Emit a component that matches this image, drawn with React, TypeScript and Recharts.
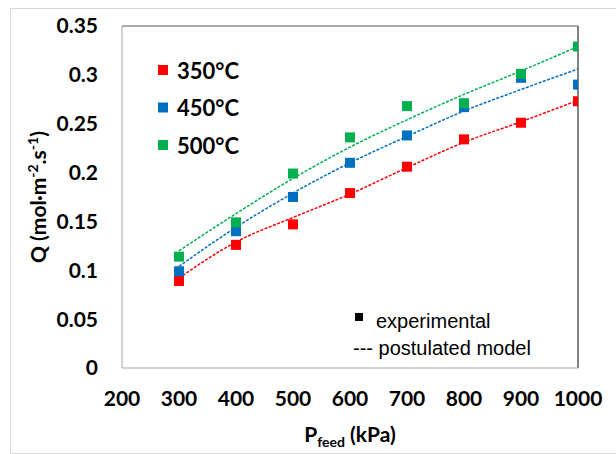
import React from 'react';
import { ComposedChart, Line, Scatter, XAxis, YAxis, ReferenceLine } from 'recharts';

const pressures = [300, 400, 500, 600, 700, 800, 900, 1000];
const exp350 = [0.089, 0.126, 0.147, 0.179, 0.206, 0.234, 0.251, 0.273];
const exp450 = [0.099, 0.140, 0.175, 0.210, 0.238, 0.267, 0.297, 0.290];
const exp500 = [0.114, 0.149, 0.199, 0.236, 0.268, 0.271, 0.301, 0.329];
const model350 = [0.092, 0.129, 0.154, 0.178, 0.205, 0.231, 0.252, 0.274];
const model450 = [0.104, 0.144, 0.179, 0.210, 0.237, 0.263, 0.285, 0.306];
const model500 = [0.120, 0.158, 0.194, 0.226, 0.254, 0.280, 0.304, 0.329];
const xTicks = [200, 300, 400, 500, 600, 700, 800, 900, 1000];
const yTicks = [0, 0.05, 0.1, 0.15, 0.2, 0.25, 0.3, 0.35];
const temps = ['350°C', '450°C', '500°C'];
const colors = ['#FF0000', '#0070C0', '#00B050'];

const toPts = (vals: number[]) => pressures.map((p, i) => ({ x: p, y: vals[i] }));

const SquareShape = (props: any) => {
  const { cx, cy, fill } = props;
  if (cx == null || cy == null) return null;
  return <rect x={cx - 5} y={cy - 5} width={10} height={10} fill={fill} />;
};

const fmtY = (v: number) => (v === 0 ? '0' : String(+v.toFixed(2)));

const tickStyle = { fontFamily: 'Lato', fontWeight: 700, fontSize: 21, fill: '#000' };

export default function App() {
  const models = [model350, model450, model500];
  const exps = [exp350, exp450, exp500];
  return (
    <div style={{ position: 'absolute', left: 0, top: 0, width: 616, height: 454, background: '#fff', overflow: 'hidden' }}>
      <div style={{ position: 'absolute', left: 10, top: 8, width: 700, height: 444, border: '1px solid #d9d9d9' }} />
      <div style={{ position: 'absolute', left: 0, top: 0 }}>
        <ComposedChart width={616} height={454} margin={{ top: 26, right: 38, bottom: 56, left: 22 }}>
          <XAxis
            type="number"
            dataKey="x"
            domain={[200, 1000]}
            ticks={xTicks}
            height={30}
            tickSize={0}
            tickMargin={23}
            tickLine={false}
            axisLine={{ stroke: '#a6a6a6', strokeWidth: 1 }}
            tick={tickStyle}
            interval={0}
            allowDataOverflow
          />
          <YAxis
            type="number"
            dataKey="y"
            domain={[0, 0.35]}
            ticks={yTicks}
            width={100}
            tickSize={0}
            tickMargin={24}
            tickLine={false}
            axisLine={{ stroke: '#a6a6a6', strokeWidth: 1 }}
            tick={tickStyle}
            tickFormatter={fmtY}
            interval={0}
            allowDataOverflow
          />
          <ReferenceLine y={0.35} stroke="#595959" strokeWidth={1.2} ifOverflow="extendDomain" />
          <ReferenceLine x={1000} stroke="#595959" strokeWidth={1.5} ifOverflow="extendDomain" />
          {models.map((m, i) => (
            <Line
              key={'m' + i}
              data={toPts(m)}
              dataKey="y"
              type="monotone"
              stroke={colors[i]}
              strokeWidth={1.5}
              strokeDasharray="3 1.5"
              dot={false}
              activeDot={false}
              isAnimationActive={false}
            />
          ))}
          {exps.map((e, i) => (
            <Scatter
              key={'e' + i}
              data={toPts(e)}
              dataKey="y"
              fill={colors[i]}
              shape={<SquareShape />}
              isAnimationActive={false}
            />
          ))}
        </ComposedChart>
      </div>
      <svg width={616} height={454} style={{ position: 'absolute', left: 0, top: 0, pointerEvents: 'none' }}>
        {temps.map((t, i) => (
          <g key={t}>
            <rect x={158} y={65 + i * 37.5} width={10} height={10} fill={colors[i]} />
            <text x={177} y={78.5 + i * 37.5} fontFamily="Lato" fontWeight={700} fontSize={22} fill="#000">{t}</text>
          </g>
        ))}
        <rect x={355} y={313} width={8} height={8} fill="#000" />
        <text x={376} y={328} fontFamily="Liberation Sans" fontSize={20} fill="#000">experimental</text>
        <text x={353} y={355} fontFamily="Liberation Sans" fontSize={20} fill="#000">--- postulated model</text>
        <text x={350} y={442} textAnchor="middle" fontFamily="Lato" fontWeight={700} fontSize={21} fill="#000">
          P<tspan fontSize={14} dy={5}>feed</tspan><tspan dy={-5}> (kPa)</tspan>
        </text>
        <text transform="translate(46,197) rotate(-90)" textAnchor="middle" fontFamily="Lato" fontWeight={700} fontSize={21} fill="#000">
          Q (mol·m<tspan fontSize={14} dy={-8}>-2</tspan><tspan dy={8}>.s</tspan><tspan fontSize={14} dy={-8}>-1</tspan><tspan dy={8}>)</tspan>
        </text>
      </svg>
    </div>
  );
}
